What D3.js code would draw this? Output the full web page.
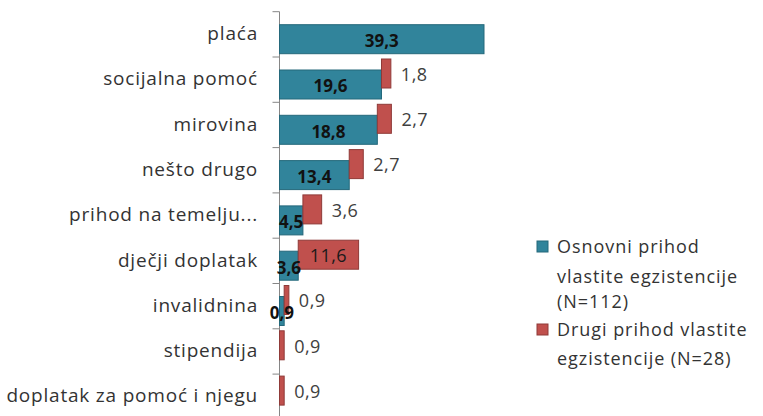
<!DOCTYPE html>
<html>
<head>
<meta charset="utf-8">
<script src="https://cdn.jsdelivr.net/npm/d3@7"></script>
<style>
  body { margin: 0; background: #fff; }
  svg text { font-family: "Open Sans", "Liberation Sans", sans-serif; }
</style>
</head>
<body>
<svg id="chart" width="763" height="416"></svg>
<script>
// categories, top to bottom
var categories = ['plaća', 'socijalna pomoć', 'mirovina', 'nešto drugo',
    'prihod na temelju...', 'dječji doplatak', 'invalidnina', 'stipendija',
    'doplatak za pomoć i njegu'];

// series values (%)
var osnovni = [39.3, 19.6, 18.8, 13.4, 4.5, 3.6, 0.9, 0, 0];
var drugi = [0, 1.8, 2.7, 2.7, 3.6, 11.6, 0.9, 0.9, 0.9];

var seriesNames = [
    ['Osnovni prihod', 'vlastite egzistencije', '(N=112)'],
    ['Drugi prihod vlastite', 'egzistencije (N=28)']
];

var blue = '#31849b', blueEdge = '#24687b';
var red = '#c0504d', redEdge = '#8f3a38';

var svg = d3.select('#chart');
var x0 = 279.5;

var x = d3.scaleLinear().domain([0, 39.3]).range([x0, 484]);
var y = d3.scaleBand().domain(categories).range([11.7, 419.4]).padding(0);

function fmt(v) { return String(v.toFixed(1)).replace('.', ','); }

// y axis: line + ticks on band boundaries, labels to the left
var axis = svg.append('g');
axis.append('line')
    .attr('x1', x0).attr('x2', x0)
    .attr('y1', y.range()[0]).attr('y2', y.range()[1])
    .style('stroke', '#868686').style('stroke-width', 1);

categories.forEach(function(c, i){
    axis.append('line')
        .attr('x1', x0 - 7).attr('x2', x0)
        .attr('y1', y(c)).attr('y2', y(c))
        .style('stroke', '#868686');
    axis.append('text')
        .attr('x', 258)
        .attr('y', y(c) + y.bandwidth() / 2 - 1)
        .attr('dy', '0.35em')
        .style('text-anchor', 'end')
        .style('font-size', '19px')
        .style('letter-spacing', '0.8px')
        .style('fill', '#333')
        .text(c);
});

var barH = 29;

// blue (base) bars
svg.selectAll('.bar.osnovni')
    .data(categories).enter()
    .append('rect')
    .attr('class', 'bar osnovni')
    .attr('x', x0)
    .attr('y', function(c){ return y(c) + 13; })
    .attr('width', function(c, i){ return x(osnovni[i]) - x0; })
    .attr('height', barH)
    .style('fill', blue)
    .style('stroke', function(c, i){ return osnovni[i] > 0 ? blueEdge : 'none'; })
    .style('stroke-width', 1);

// red bars stacked on blue, shifted up
svg.selectAll('.bar.drugi')
    .data(categories).enter()
    .append('rect')
    .attr('class', 'bar drugi')
    .attr('x', function(c, i){ return x(osnovni[i]); })
    .attr('y', function(c){ return y(c) + 2; })
    .attr('width', function(c, i){ return x(osnovni[i] + drugi[i]) - x(osnovni[i]); })
    .attr('height', barH)
    .style('fill', function(c, i){ return drugi[i] > 0 ? red : 'none'; })
    .style('stroke', function(c, i){ return drugi[i] > 0 ? redEdge : 'none'; })
    .style('stroke-width', 1);

// blue labels, centred in bar
categories.forEach(function(c, i){
    if (osnovni[i] <= 0) return;
    svg.append('text')
        .attr('x', (x0 + x(osnovni[i])) / 2)
        .attr('y', y(c) + 13 + barH / 2 + 2)
        .attr('dy', '0.35em')
        .style('text-anchor', 'middle')
        .style('font-size', '17px')
        .style('font-weight', 'bold')
        .style('fill', '#111')
        .text(fmt(osnovni[i]));
});

// red labels, outside end (inside for wide bar)
categories.forEach(function(c, i){
    if (drugi[i] <= 0) return;
    var a = x(osnovni[i]), b = x(osnovni[i] + drugi[i]);
    var inside = (b - a) > 40;
    svg.append('text')
        .attr('x', inside ? (a + b) / 2 : b + 10)
        .attr('y', y(c) + 2 + barH / 2 + 1)
        .attr('dy', '0.35em')
        .style('text-anchor', inside ? 'middle' : 'start')
        .style('font-size', '18px')
        .style('letter-spacing', '0.5px')
        .style('fill', inside ? '#1a1a1a' : '#404040')
        .text(fmt(drugi[i]));
});

// legend
var legend = svg.append('g');
var legendY = [[247, 277, 302], [330, 359]];
var colors = [[blue, blueEdge], [red, redEdge]];
seriesNames.forEach(function(lines, k){
    legend.append('rect')
        .attr('x', 537).attr('y', legendY[k][0] - 6)
        .attr('width', 11).attr('height', 11)
        .style('fill', colors[k][0])
        .style('stroke', colors[k][1]);
    lines.forEach(function(t, j){
        legend.append('text')
            .attr('x', 557)
            .attr('y', legendY[k][j])
            .attr('dy', '0.35em')
            .style('font-size', '18px')
            .style('letter-spacing', '0.95px')
            .style('fill', '#333')
            .text(t);
    });
});
</script>
</body>
</html>
